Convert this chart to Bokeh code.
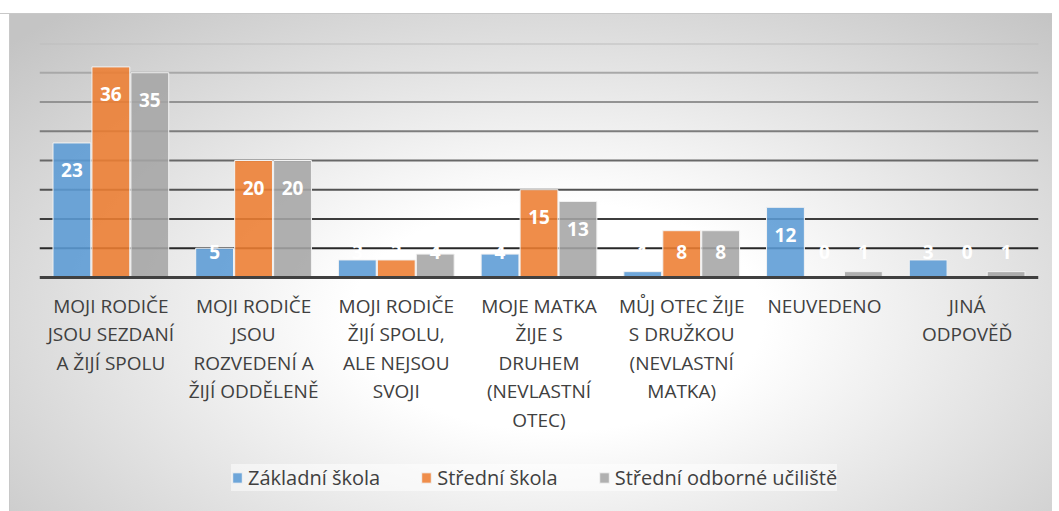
import numpy as np
from bokeh.plotting import figure
from bokeh.models import ColumnDataSource, FactorRange, Range1d, Legend, LegendItem, Span
from bokeh.transform import dodge
from bokeh.embed import file_html
from bokeh.resources import INLINE
from bokeh.core.properties import value

# ---- data ----
category_labels = [
    "MOJI RODIČE\nJSOU SEZDANÍ\nA ŽIJÍ SPOLU",
    "MOJI RODIČE\nJSOU\nROZVEDENÍ A\nŽIJÍ ODDĚLENĚ",
    "MOJI RODIČE\nŽIJÍ SPOLU,\nALE NEJSOU\nSVOJI",
    "MOJE MATKA\nŽIJE S\nDRUHEM\n(NEVLASTNÍ\nOTEC)",
    "MŮJ OTEC ŽIJE\nS DRUŽKOU\n(NEVLASTNÍ\nMATKA)",
    "NEUVEDENO",
    "JINÁ\nODPOVĚĎ",
]
series_names = ["Základní škola", "Střední škola", "Střední odborné učiliště"]
zakladni = [23, 5, 3, 4, 1, 12, 3]
stredni = [36, 20, 3, 15, 8, 0, 0]
odborne = [35, 20, 4, 13, 8, 1, 1]
y_ticks = [5, 10, 15, 20, 25, 30, 35, 40]

# ---- styling ----
colors = ["#5B9BD5", "#ED7D31", "#A5A5A5"]
offsets = [-0.273, 0.0, 0.273]
bar_w = 0.265
FONT = "Open Sans"
TXT = "#404040"

factors = category_labels

data = dict(cat=factors)
for key, vals in zip(["a", "b", "c"], [zakladni, stredni, odborne]):
    v = np.array(vals, dtype=float)
    data[key] = v
    data[key + "_ly"] = np.maximum(v - 4.65, 4.3)
    data[key + "_t"] = [str(int(x)) for x in vals]
src = ColumnDataSource(data)

# frame extends below the baseline so the category labels and legend sit inside it
p = figure(
    x_range=FactorRange(*factors),
    y_range=Range1d(-40, 40),
    frame_width=999, frame_height=468,
    min_border_left=39, min_border_right=14, min_border_top=43, min_border_bottom=0,
    output_backend="svg", toolbar_location=None,
    border_fill_color=None, background_fill_color=None, outline_line_color=None,
)
p.styles = {
    "background": "linear-gradient(to bottom, #ffffff 0px, #ffffff 13px, #c8c8c8 13px, #c8c8c8 14px, rgba(255,255,255,0) 14px), "
                  "linear-gradient(to right, #ffffff 0px, #ffffff 9px, #c8c8c8 9px, #c8c8c8 10px, rgba(255,255,255,0) 10px), "
                  "radial-gradient(ellipse 70% 80% at 53% 62%, #ffffff 0%, #ffffff 28%, #c4c4c4 100%)"
}

p.xgrid.visible = False
p.ygrid.visible = False
p.yaxis.visible = False

# gridlines (darker toward the bottom, as in the reference)
n = len(y_ticks)
for i, t in enumerate(y_ticks):
    g = int(40 + (190 - 40) * i / (n - 1))
    p.add_layout(Span(location=t, dimension="width", line_color="#%02x%02x%02x" % (g, g, g),
                      line_width=2, level="underlay"))

renderers = []
for key, col, off in zip(["a", "b", "c"], colors, offsets):
    r = p.vbar(x=dodge("cat", off, range=p.x_range), top=key, width=bar_w, source=src,
               fill_color=col, fill_alpha=0.88, line_color="#f2f2f2", line_width=1)
    renderers.append(r)
    p.text(x=dodge("cat", off, range=p.x_range), y=key + "_ly", text=key + "_t", source=src,
           text_font=value(FONT), text_font_style="bold", text_font_size="19px",
           text_color="white", text_align="center", text_baseline="middle")

ax = p.xaxis[0]
ax.fixed_location = 0
ax.major_tick_line_color = None
ax.minor_tick_line_color = None
ax.axis_line_color = "#404040"
ax.axis_line_width = 3
ax.major_label_text_font = FONT
ax.major_label_text_font_size = "19px"
ax.major_label_text_color = TXT
ax.major_label_text_line_height = 1.1
ax.major_label_standoff = 9
ax.major_label_orientation = "horizontal"

legend = Legend(
    items=[LegendItem(label=nm, renderers=[r]) for nm, r in zip(series_names, renderers)],
    orientation="horizontal", location=(192, 20),
    label_text_font=FONT, label_text_font_size="20px", label_text_color=TXT,
    glyph_width=12, glyph_height=13, label_standoff=5, spacing=40,
    padding=13, margin=0,
    background_fill_color="white", background_fill_alpha=0.5, border_line_color=None,
)
p.add_layout(legend)

open("out.html", "w").write(file_html(p, INLINE))
